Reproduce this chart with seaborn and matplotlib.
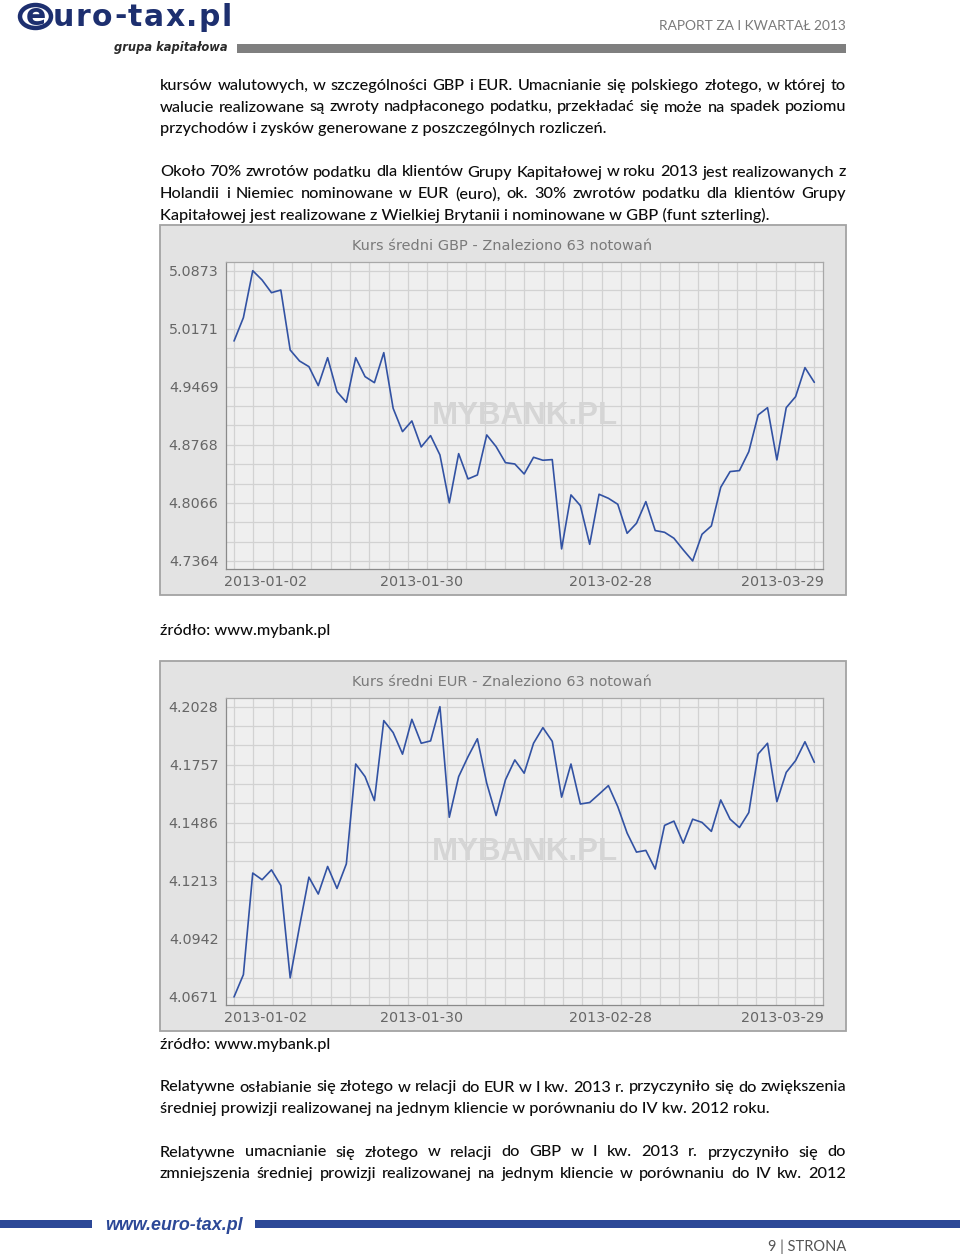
import numpy as np
import pandas as pd
import matplotlib
matplotlib.use("Agg")
import matplotlib.pyplot as plt
import matplotlib.transforms as mtransforms
from matplotlib.patches import Rectangle, Ellipse
import seaborn as sns

# ---------------- data ----------------
dates = pd.bdate_range("2013-01-02", "2013-03-29")  # 63 quotations

gbp_values = [5.0023, 5.0305, 5.0873, 5.0760, 5.0607, 5.0639, 4.9914, 4.9781, 4.9713, 4.9483,
              4.9821, 4.9410, 4.9282, 4.9821, 4.9592, 4.9519, 4.9882, 4.9209, 4.8927, 4.9056,
              4.8742, 4.8879, 4.8645, 4.8066, 4.8661, 4.8355, 4.8403, 4.8887, 4.8746, 4.8552,
              4.8536, 4.8415, 4.8617, 4.8581, 4.8589, 4.7509, 4.8162, 4.8033, 4.7565, 4.8170,
              4.8121, 4.8049, 4.7698, 4.7819, 4.8081, 4.7731, 4.7710, 4.7638, 4.7497, 4.7364,
              4.7686, 4.7787, 4.8254, 4.8444, 4.8456, 4.8685, 4.9129, 4.9217, 4.8585, 4.9217,
              4.9350, 4.9701, 4.9523]

eur_values = [4.0671, 4.0775, 4.1250, 4.1219, 4.1265, 4.1192, 4.0760, 4.1001, 4.1231, 4.1152,
              4.1281, 4.1178, 4.1293, 4.1760, 4.1701, 4.1589, 4.1963, 4.1907, 4.1806, 4.1969,
              4.1857, 4.1868, 4.2028, 4.1511, 4.1701, 4.1794, 4.1878, 4.1670, 4.1519, 4.1686,
              4.1779, 4.1717, 4.1857, 4.1930, 4.1866, 4.1605, 4.1760, 4.1573, 4.1580, 4.1619,
              4.1659, 4.1561, 4.1437, 4.1348, 4.1356, 4.1269, 4.1473, 4.1493, 4.1390, 4.1502,
              4.1487, 4.1445, 4.1592, 4.1502, 4.1463, 4.1533, 4.1807, 4.1857, 4.1584, 4.1721,
              4.1776, 4.1864, 4.1768]

gbp_ylabels = ["4.7364", "4.8066", "4.8768", "4.9469", "5.0171", "5.0873"]
eur_ylabels = ["4.0671", "4.0942", "4.1213", "4.1486", "4.1757", "4.2028"]
x_labels = ["2013-01-02", "2013-01-30", "2013-02-28", "2013-03-29"]

gbp_title = "Kurs średni GBP - Znaleziono 63 notowań"
eur_title = "Kurs średni EUR - Znaleziono 63 notowań"

para1 = ["kursów walutowych, w szczególności GBP i EUR. Umacnianie się polskiego złotego, w której to",
         "walucie realizowane są zwroty nadpłaconego podatku, przekładać się może na spadek poziomu",
         "przychodów i zysków generowane z poszczególnych rozliczeń."]
para2 = ["Około 70% zwrotów podatku dla klientów Grupy Kapitałowej w roku 2013 jest realizowanych z",
         "Holandii i Niemiec nominowane w EUR (euro), ok. 30% zwrotów podatku dla klientów Grupy",
         "Kapitałowej jest realizowane z Wielkiej Brytanii i nominowane w GBP (funt szterling)."]
para3 = ["Relatywne osłabianie się złotego w relacji do EUR w I kw. 2013 r. przyczyniło się do zwiększenia",
         "średniej prowizji realizowanej na jednym kliencie w porównaniu do IV kw. 2012 roku."]
para4 = ["Relatywne umacnianie się złotego w relacji do GBP w I kw. 2013 r. przyczyniło się do",
         "zmniejszenia średniej prowizji realizowanej na jednym kliencie w porównaniu do IV kw. 2012"]
source_text = "źródło: www.mybank.pl"
header_right = "RAPORT ZA I KWARTAŁ 2013"
page_label = "9 | STRONA"
logo_text = "uro-tax.pl"
logo_sub = "grupa kapitałowa"
footer_url = "www.euro-tax.pl"

# ---------------- setup ----------------
sns.set_style("white")
plt.rcParams["font.family"] = ["DejaVu Sans"]

W, H = 960, 1257
fig = plt.figure(figsize=(W / 100, H / 100), dpi=100)
fig.patch.set_facecolor("white")
renderer = fig.canvas.get_renderer()


def fx(x):
    return x / W


def fy(y):
    return 1 - y / H


BODY_FONT = ["Lato", "DejaVu Sans"]
BODY_COLOR = "#0d0d0d"
BODY_WEIGHT = "medium"


def text_width(s, size, family=BODY_FONT, **kw):
    t = fig.text(0, 0, s, fontsize=size, family=family, **kw)
    w = t.get_window_extent(renderer).width
    t.remove()
    return w


def fit_size(s, width, family=BODY_FONT, **kw):
    return 10 * width / text_width(s, 10, family, **kw)


BODY_SIZE = fit_size(para1[2], 446, fontweight=BODY_WEIGHT)


def body_text(x, y, s, **kw):
    fig.text(fx(x), fy(y), s, fontsize=BODY_SIZE, family=BODY_FONT, fontweight=BODY_WEIGHT,
             color=BODY_COLOR, va="baseline", ha="left", **kw)


def draw_line(s, y, justify, x0=160, x1=846):
    if not justify:
        body_text(x0, y, s)
        return
    words = s.split(" ")
    widths = [text_width(w, BODY_SIZE, fontweight=BODY_WEIGHT) for w in words]
    gap = (x1 - x0 - sum(widths)) / (len(words) - 1)
    x = x0
    for w, wd in zip(words, widths):
        body_text(x, y, w)
        x += wd + gap


def draw_para(lines, y0, just, step=21.7):
    for i, (ln, j) in enumerate(zip(lines, just)):
        draw_line(ln, y0 + i * step, j)


draw_para(para1, 89.8, [True, True, False])
draw_para(para2, 176.5, [True, True, False])
draw_line(source_text, 634.5, False)
draw_line(source_text, 1048.5, False)
draw_para(para3, 1091.5, [True, False])
draw_para(para4, 1156.5, [True, True])

# ---------------- header ----------------
NAVY = "#1d2f6f"
LOGO_FONT = ["DejaVu Sans"]
logo_size = 21.5
chars = list(logo_text)
cw = [text_width(c, logo_size, LOGO_FONT, fontweight="bold") for c in chars]
track = (232 - 53 - sum(cw)) / (len(chars) - 1)
x = 53
for c, w in zip(chars, cw):
    fig.text(fx(x), fy(25.5), c, fontsize=logo_size, fontweight="bold", family=LOGO_FONT,
             color=NAVY, va="baseline", ha="left")
    x += w + track
fig.patches.append(Ellipse((fx(35.5), fy(16.5)), 31 / W, 23 / H, transform=fig.transFigure,
                           fc="white", ec=NAVY, lw=3.2))
fig.text(fx(36), fy(25), "e", fontsize=logo_size, fontweight="bold", family=LOGO_FONT,
         color=NAVY, va="baseline", ha="center")
sub_size = fit_size(logo_sub, 114, LOGO_FONT, fontweight="bold", style="italic")
fig.text(fx(114), fy(51), logo_sub, fontsize=sub_size, fontweight="bold", style="italic",
         family=LOGO_FONT, color="#2a2a2a", va="baseline", ha="left")
fig.patches.append(Rectangle((fx(237), fy(53)), (846 - 237) / W, 9 / H, transform=fig.transFigure,
                             fc="#7f7f7f", ec="none"))
fig.text(fx(846), fy(29.5), header_right, fontsize=fit_size(header_right, 187), family=BODY_FONT,
         color="#7a7a7a", va="baseline", ha="right")

# ---------------- footer ----------------
BLUE = "#2c4897"
fig.patches.append(Rectangle((0, fy(1227.5)), 92 / W, 8 / H, transform=fig.transFigure,
                             fc=BLUE, ec="none"))
fig.patches.append(Rectangle((fx(255), fy(1227.5)), (960 - 255) / W, 8 / H, transform=fig.transFigure,
                             fc=BLUE, ec="none"))
url_size = fit_size(footer_url, 137, ["Liberation Sans"], fontweight="bold", style="italic")
fig.text(fx(105), fy(1230), footer_url, fontsize=url_size, fontweight="bold", style="italic",
         family=["Liberation Sans"], color=BLUE, va="baseline", ha="left")
fig.text(fx(846), fy(1251.5), page_label, fontsize=fit_size(page_label, 78), family=BODY_FONT,
         color="#555555", va="baseline", ha="right")


# ---------------- charts ----------------
def draw_chart(top, values, ylabels, title):
    fig.patches.append(Rectangle((fx(160), fy(top + 370)), 686 / W, 370 / H,
                                 transform=fig.transFigure, fc="#e3e3e3", ec="#a3a3a3", lw=1.3,
                                 zorder=0))
    ax = fig.add_axes([fx(225.7), fy(top + 344.3), 597.6 / W, 307 / H])
    ax.set_zorder(3)
    ax.set_facecolor("#efefef")
    n = len(values)
    df = pd.DataFrame({"idx": np.arange(n), "date": dates, "kurs": values})
    vmin, vmax = min(values), max(values)
    pad = (vmax - vmin) * 0.0289
    ax.set_axisbelow(True)
    ax.set_xticks(np.linspace(0, n - 1, 31), minor=True)
    ax.set_yticks(np.linspace(vmin, vmax, 16), minor=True)
    ax.grid(which="both", color="#d2d2d2", lw=0.9)
    ax.text(0.5, 0.5, "MYBANK.PL", transform=ax.transAxes, ha="center", va="center",
            fontsize=22.5, fontweight="bold", family=["Liberation Sans"], color="#d5d5d5", zorder=1)
    sns.lineplot(data=df, x="idx", y="kurs", ax=ax, color="#3252a3", lw=1.2, zorder=3)
    ax.set_xlim(-0.89, n - 1 + 0.96)
    ax.set_ylim(vmin - pad, vmax + pad)
    ax.set_yticks(np.linspace(vmin, vmax, 6))
    ax.set_yticklabels(ylabels)
    ax.set_xticks(np.linspace(0, n - 1, 4))
    ax.set_xticklabels(x_labels)
    ax.set_xlabel("")
    ax.set_ylabel("")
    ax.tick_params(which="minor", length=0)
    ax.tick_params(which="major", length=3, width=0.8, color="#888888", labelcolor="#666666",
                   labelsize=10.3)
    ax.tick_params(axis="y", pad=2.2)
    ax.tick_params(axis="x", pad=1.0)
    for lab in ax.get_yticklabels() + ax.get_xticklabels():
        lab.set_family(["DejaVu Sans"])
    offsets = [32, -6, -10, -32]
    for lab, dx in zip(ax.get_xticklabels(), offsets):
        lab.set_transform(lab.get_transform() +
                          mtransforms.ScaledTranslation(dx / 100, 0, fig.dpi_scale_trans))
    for side in ["left", "bottom"]:
        ax.spines[side].set_color("#8a8a8a")
        ax.spines[side].set_linewidth(0.9)
    for side in ["top", "right"]:
        ax.spines[side].set_color("#a8a8a8")
        ax.spines[side].set_linewidth(0.9)
    fig.text(fx(502), fy(top + 21), title, ha="center", va="center", color="#7a7a7a",
             fontsize=fit_size(title, 298, ["DejaVu Sans"]), family=["DejaVu Sans"], zorder=4)
    return ax


draw_chart(225, gbp_values, gbp_ylabels, gbp_title)
draw_chart(661, eur_values, eur_ylabels, eur_title)

fig.savefig("out.png", dpi=100, facecolor="white")
